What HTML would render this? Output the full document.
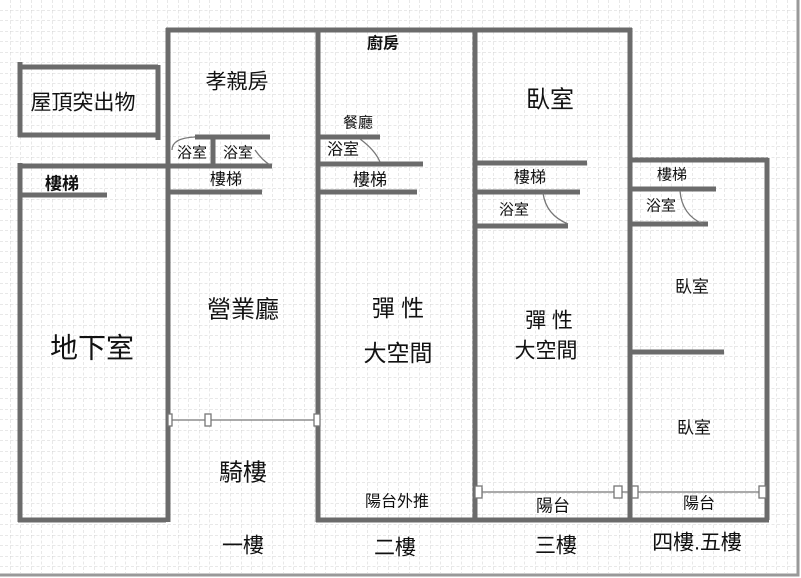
<!DOCTYPE html>
<html><head><meta charset="utf-8"><style>
html,body{margin:0;padding:0;background:#fff}
svg{display:block}
text{font-family:"Liberation Sans","Noto Sans CJK TC",sans-serif;fill:#111;text-anchor:middle;dominant-baseline:central}
</style></head><body>
<svg width="801" height="578" viewBox="0 0 801 578" xmlns="http://www.w3.org/2000/svg">
<defs>
<pattern id="g" width="10.5" height="10.5" patternUnits="userSpaceOnUse">
<path d="M10.5 0V10.5M0 10.5H10.5" stroke="#d2d2d2" stroke-width="1" stroke-dasharray="3,2" fill="none"/>
</pattern>
</defs>
<rect width="801" height="578" fill="#fff"/>
<rect width="796" height="573" fill="url(#g)"/>
<path d="M0 575H798V0" stroke="#999" stroke-width="3" fill="none"/>
<g stroke="#6b6b6b" stroke-width="5" fill="none">
<path d="M20 62V137M18 67H158M158 65V140M18 135H160"/>
<path d="M20 163V522M18 166H272M18 520H166M20 195H107"/>
<path d="M168 28V522M166 30H632M318 30V522M195 137H270M213 137V166M168 192H262"/>
<path d="M318 137H380M318 164H423M318 192H417M316 520H632"/>
<path d="M475 30V520M630 28V520M475 163H587M475 192H580M475 226H568"/>
<path d="M630 160H768M767 158V520M630 520H769M630 189H716M630 224H708M630 352H724"/>
</g>
<g stroke="#777" stroke-width="1.3" fill="#fff">
<path d="M170 420H317M478 492H628M634 492H765" fill="none"/>
<rect x="205" y="414" width="6" height="12"/><rect x="314" y="414" width="6" height="12"/><rect x="168" y="414" width="4" height="12"/>
<rect x="475" y="486" width="7" height="12"/><rect x="614" y="486" width="8" height="12"/>
<rect x="632" y="486" width="6" height="12"/><rect x="759" y="486" width="7" height="12"/>
<path d="M360 139Q375 150 380 162M543 193Q546 215 568 224M680 191Q682 215 703 224M172 150Q172 138 195 137M255 150Q262 160 270 165" fill="none"/>
</g>
<text x="83" y="103" font-size="21">屋頂突出物</text>
<text x="237" y="82" font-size="21">孝親房</text>
<text x="192" y="153" font-size="15">浴室</text>
<text x="238" y="153" font-size="15">浴室</text>
<text x="62" y="184" font-size="17" font-weight="bold">樓梯</text>
<text x="226" y="180" font-size="16">樓梯</text>
<text x="383" y="44" font-size="16" font-weight="bold">廚房</text>
<text x="358" y="123" font-size="15">餐廳</text>
<text x="343" y="150" font-size="16">浴室</text>
<text x="370" y="180" font-size="17">樓梯</text>
<text x="550" y="100" font-size="24">臥室</text>
<text x="530" y="178" font-size="16">樓梯</text>
<text x="514" y="210" font-size="15">浴室</text>
<text x="672" y="175" font-size="15">樓梯</text>
<text x="661" y="206" font-size="15">浴室</text>
<text x="92" y="348" font-size="28">地下室</text>
<text x="243" y="310" font-size="24">營業廳</text>
<text x="398" y="308" font-size="23">彈 性</text>
<text x="398" y="353" font-size="23">大空間</text>
<text x="549" y="321" font-size="21">彈 性</text>
<text x="546" y="351" font-size="21">大空間</text>
<text x="692" y="287" font-size="17">臥室</text>
<text x="694" y="428" font-size="17">臥室</text>
<text x="243" y="473" font-size="24">騎樓</text>
<text x="397" y="502" font-size="16">陽台外推</text>
<text x="553" y="506" font-size="17">陽台</text>
<text x="699" y="504" font-size="16">陽台</text>
<text x="243" y="546" font-size="21">一樓</text>
<text x="395" y="548" font-size="21">二樓</text>
<text x="556" y="546" font-size="21">三樓</text>
<text x="697" y="543" font-size="21">四樓.五樓</text>
</svg>
</body></html>
